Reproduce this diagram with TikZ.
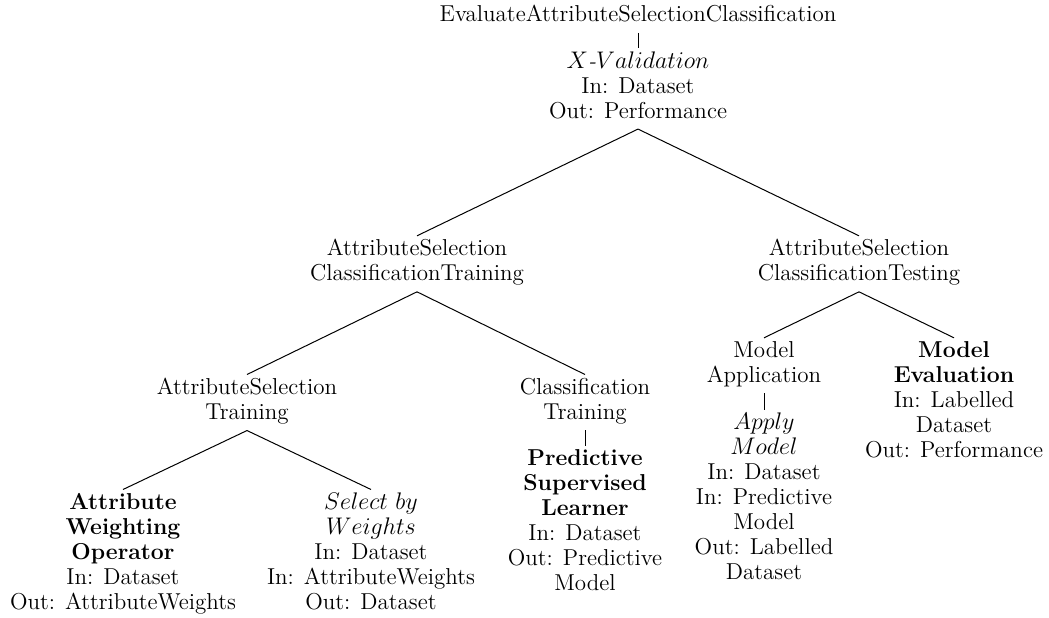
\documentclass[tikz,border=0pt]{standalone}
\usepackage{fontspec}
\begin{document}
\begin{tikzpicture}[x=0.5pt,y=-0.5pt,
  tn/.style={align=center,inner sep=0pt,outer sep=0pt,anchor=north,text depth=0pt,
    font=\fontsize{11.5}{12.5}\selectfont},
  br/.style={line width=0.5pt}]
\useasboundingbox (0,0) rectangle (1049,617);
\node[tn] (root) at (638,5.4) {EvaluateAttributeSelectionClassification};
\node[tn] (xval) at (638,51.4) {$X$\textit{-}$Validation$\\In: Dataset\\Out: Performance};
\node[tn] (asct) at (417,239.4) {AttributeSelection\\ClassificationTraining};
\node[tn] (astest) at (859,239.4) {AttributeSelection\\ClassificationTesting};
\node[tn] (ast) at (247,378.1) {AttributeSelection\\Training};
\node[tn] (ct) at (585,378.1) {Classification\\Training};
\node[tn] (awo) at (123,493.1) {\textbf{Attribute}\\\textbf{Weighting}\\\textbf{Operator}\\In: Dataset\\Out: AttributeWeights};
\node[tn] (sbw) at (371,493.1) {$Select\ by$\\$Weights$\\In: Dataset\\In: AttributeWeights\\Out: Dataset};
\node[tn] (psl) at (585,449.1) {\textbf{Predictive}\\\textbf{Supervised}\\\textbf{Learner}\\In: Dataset\\Out: Predictive\\Model};
\node[tn] (ma) at (764,341.4) {Model\\Application};
\node[tn] (am) at (764,413.1) {$Apply$\\$Model$\\In: Dataset\\In: Predictive\\Model\\Out: Labelled\\Dataset};
\node[tn] (me) at (954,341.4) {\textbf{Model}\\\textbf{Evaluation}\\In: Labelled\\Dataset\\Out: Performance};
\foreach \a/\b in {root/xval,xval/asct,xval/astest,asct/ast,asct/ct,ast/awo,ast/sbw,ct/psl,astest/ma,astest/me,ma/am}
  \draw[br] ([yshift=-5.5pt]\a.south) -- ([yshift=1.8pt]\b.north);
\end{tikzpicture}
\end{document}
